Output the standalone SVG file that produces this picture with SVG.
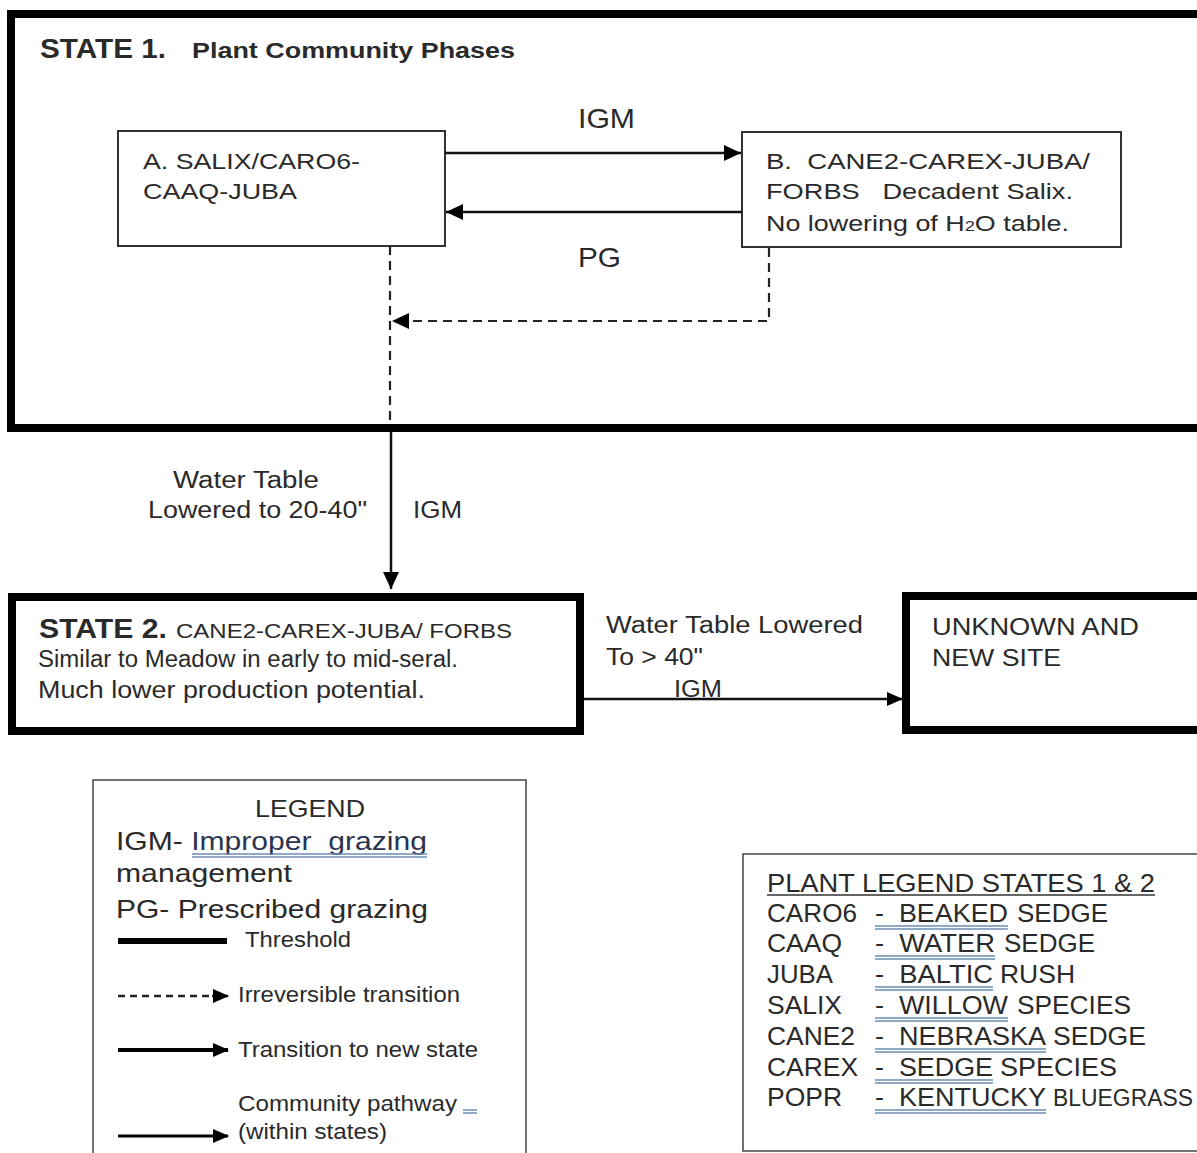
<svg xmlns="http://www.w3.org/2000/svg" width="1197" height="1153" viewBox="0 0 1197 1153">
<style>
text{font-family:"Liberation Sans",Arial,sans-serif;fill:#2a2a2a;white-space:pre}
.thick{fill:none;stroke:#000;stroke-width:8}
.thin{fill:#fff;stroke:#333;stroke-width:2}
.ln{fill:none;stroke:#111;stroke-width:2.5}
.dash{fill:none;stroke:#222;stroke-width:2.2;stroke-dasharray:9 6}
.t22{font-size:22px}
.t23{font-size:23px}
.ul{stroke:#6a8db5;stroke-width:1.5}
</style>
<defs>
<marker id="ah" markerWidth="16" markerHeight="14" refX="15" refY="7" orient="auto" markerUnits="userSpaceOnUse" viewBox="0 0 16 14">
<path d="M0,0 L16,7 L0,14 z" fill="#000"/>
</marker>
<marker id="ahs" markerWidth="17" markerHeight="16" refX="17" refY="8" orient="auto" markerUnits="userSpaceOnUse" viewBox="0 0 17 16">
<path d="M0,0 L17,8 L0,16 z" fill="#000"/>
</marker>
</defs>
<rect width="1197" height="1153" fill="#fff"/>

<g id="state1">
<rect class="thick" x="11" y="14" width="1200" height="414"/>
<text x="40" y="58" font-size="27" font-weight="bold" fill="#151515" textLength="126" lengthAdjust="spacingAndGlyphs">STATE 1.</text>
<text x="192" y="58" font-size="22" font-weight="bold" fill="#151515" textLength="323" lengthAdjust="spacingAndGlyphs">Plant Community Phases</text>
</g>

<g id="phaseA">
<rect class="thin" x="118" y="131" width="327" height="115"/>
<text class="t22" x="143" y="169" textLength="217" lengthAdjust="spacingAndGlyphs">A. SALIX/CARO6-</text>
<text class="t22" x="143" y="199" textLength="154" lengthAdjust="spacingAndGlyphs">CAAQ-JUBA</text>
</g>

<g id="phaseB">
<rect class="thin" x="742" y="132" width="379" height="115"/>
<text class="t22" x="766" y="169" textLength="324" lengthAdjust="spacingAndGlyphs">B.  CANE2-CAREX-JUBA/</text>
<text class="t22" x="766" y="199" textLength="307" lengthAdjust="spacingAndGlyphs">FORBS   Decadent Salix.</text>
<text class="t22" x="766" y="231" textLength="303" lengthAdjust="spacingAndGlyphs">No lowering of H<tspan font-size="15">2</tspan>O table.</text>
</g>

<g id="state2">
<rect class="thick" x="12" y="597" width="568" height="134" fill="#fff"/>
<text x="39" y="638" font-size="28" font-weight="bold" fill="#151515" textLength="128" lengthAdjust="spacingAndGlyphs">STATE 2.</text>
<text x="176" y="638" font-size="21" textLength="336" lengthAdjust="spacingAndGlyphs">CANE2-CAREX-JUBA/ FORBS</text>
<text class="t23" x="38" y="667" textLength="420" lengthAdjust="spacingAndGlyphs">Similar to Meadow in early to mid-seral.</text>
<text class="t23" x="38" y="698" textLength="387" lengthAdjust="spacingAndGlyphs">Much lower production potential.</text>
</g>

<g id="unknown">
<rect class="thick" x="906" y="596" width="300" height="134" fill="#fff"/>
<text class="t23" x="932" y="635" textLength="207" lengthAdjust="spacingAndGlyphs">UNKNOWN AND</text>
<text class="t23" x="932" y="666" textLength="129" lengthAdjust="spacingAndGlyphs">NEW SITE</text>
</g>

<g id="connectors">
<line class="ln" x1="445" y1="153" x2="741" y2="153" marker-end="url(#ahs)"/>
<line class="ln" x1="742" y1="212" x2="446" y2="212" marker-end="url(#ahs)"/>
<polyline class="dash" points="769,248 769,321 392,321" marker-end="url(#ahs)"/>
<line class="dash" x1="390" y1="246" x2="390" y2="424"/>
<line class="ln" x1="391" y1="432" x2="391" y2="589" marker-end="url(#ahs)"/>
<line class="ln" x1="584" y1="699" x2="902" y2="699" marker-end="url(#ah)"/>
</g>

<g id="labels">
<text x="578" y="128" font-size="28" textLength="57" lengthAdjust="spacingAndGlyphs">IGM</text>
<text x="578" y="267" font-size="28" textLength="43" lengthAdjust="spacingAndGlyphs">PG</text>
<text class="t23" x="173" y="488" textLength="146" lengthAdjust="spacingAndGlyphs">Water Table</text>
<text class="t23" x="148" y="518" textLength="219" lengthAdjust="spacingAndGlyphs">Lowered to 20-40"</text>
<text class="t23" x="413" y="518" textLength="49" lengthAdjust="spacingAndGlyphs">IGM</text>
<text class="t23" x="606" y="633" textLength="257" lengthAdjust="spacingAndGlyphs">Water Table Lowered</text>
<text class="t23" x="606" y="665" textLength="97" lengthAdjust="spacingAndGlyphs">To &gt; 40"</text>
<text class="t23" x="674" y="697" textLength="48" lengthAdjust="spacingAndGlyphs">IGM</text>
</g>

<g id="legend">
<rect x="93" y="780" width="433" height="390" fill="#fff" stroke="#444" stroke-width="1.5"/>
<text x="255" y="817" font-size="24" textLength="110" lengthAdjust="spacingAndGlyphs">LEGEND</text>
<text x="116" y="850" font-size="26" textLength="311" lengthAdjust="spacingAndGlyphs">IGM- <tspan fill="#2b3550">Improper  grazing</tspan></text>
<line class="ul" x1="192" y1="854" x2="427" y2="854"/>
<line class="ul" x1="192" y1="857" x2="427" y2="857"/>
<text x="116" y="882" font-size="26" textLength="176" lengthAdjust="spacingAndGlyphs">management</text>
<text x="116" y="918" font-size="26" textLength="312" lengthAdjust="spacingAndGlyphs">PG- Prescribed grazing</text>
<line x1="118" y1="941" x2="227" y2="941" stroke="#000" stroke-width="6"/>
<text x="245" y="947" font-size="22" textLength="106" lengthAdjust="spacingAndGlyphs">Threshold</text>
<line x1="118" y1="996" x2="214" y2="996" stroke="#222" stroke-width="2.5" stroke-dasharray="7 5"/>
<line x1="212" y1="996" x2="228" y2="996" stroke="#222" stroke-width="2.5" marker-end="url(#ah)"/>
<text x="238" y="1002" font-size="22" textLength="222" lengthAdjust="spacingAndGlyphs">Irreversible transition</text>
<line x1="118" y1="1050" x2="228" y2="1050" stroke="#000" stroke-width="4" marker-end="url(#ah)"/>
<text x="238" y="1057" font-size="22" textLength="240" lengthAdjust="spacingAndGlyphs">Transition to new state</text>
<text x="238" y="1111" font-size="22" textLength="219" lengthAdjust="spacingAndGlyphs">Community pathway</text>
<line class="ul" x1="463" y1="1110" x2="477" y2="1110"/>
<line class="ul" x1="463" y1="1113" x2="477" y2="1113"/>
<text x="238" y="1139" font-size="22" textLength="149" lengthAdjust="spacingAndGlyphs">(within states)</text>
<line x1="118" y1="1136" x2="228" y2="1136" stroke="#000" stroke-width="3" marker-end="url(#ah)"/>
</g>

<g id="plantLegend">
<rect x="743" y="854" width="470" height="297" fill="#fff" stroke="#444" stroke-width="1.5"/>
<text x="767" y="892" font-size="25" textLength="388" lengthAdjust="spacingAndGlyphs">PLANT LEGEND STATES 1 &amp; 2</text>
<line x1="767" y1="895" x2="1155" y2="895" stroke="#333" stroke-width="1.5"/>
<g font-size="25">
<text x="767" y="922" textLength="90" lengthAdjust="spacingAndGlyphs">CARO6</text><text x="875" y="922" textLength="133" lengthAdjust="spacingAndGlyphs">-  BEAKED</text><text x="1017" y="922" textLength="91" lengthAdjust="spacingAndGlyphs">SEDGE</text>
<text x="767" y="952" textLength="75" lengthAdjust="spacingAndGlyphs">CAAQ</text><text x="875" y="952" textLength="120" lengthAdjust="spacingAndGlyphs">-  WATER</text><text x="1004" y="952" textLength="91" lengthAdjust="spacingAndGlyphs">SEDGE</text>
<text x="767" y="983" textLength="66" lengthAdjust="spacingAndGlyphs">JUBA</text><text x="875" y="983" textLength="118" lengthAdjust="spacingAndGlyphs">-  BALTIC</text><text x="1000" y="983" textLength="75" lengthAdjust="spacingAndGlyphs">RUSH</text>
<text x="767" y="1014" textLength="75" lengthAdjust="spacingAndGlyphs">SALIX</text><text x="875" y="1014" textLength="133" lengthAdjust="spacingAndGlyphs">-  WILLOW</text><text x="1017" y="1014" textLength="114" lengthAdjust="spacingAndGlyphs">SPECIES</text>
<text x="767" y="1045" textLength="88" lengthAdjust="spacingAndGlyphs">CANE2</text><text x="875" y="1045" textLength="171" lengthAdjust="spacingAndGlyphs">-  NEBRASKA</text><text x="1053" y="1045" textLength="93" lengthAdjust="spacingAndGlyphs">SEDGE</text>
<text x="767" y="1076" textLength="91" lengthAdjust="spacingAndGlyphs">CAREX</text><text x="875" y="1076" textLength="118" lengthAdjust="spacingAndGlyphs">-  SEDGE</text><text x="1000" y="1076" textLength="117" lengthAdjust="spacingAndGlyphs">SPECIES</text>
<text x="767" y="1106" textLength="75" lengthAdjust="spacingAndGlyphs">POPR</text><text x="875" y="1106" textLength="171" lengthAdjust="spacingAndGlyphs">-  KENTUCKY</text><text x="1053" y="1106" font-size="23" textLength="140" lengthAdjust="spacingAndGlyphs">BLUEGRASS</text>
</g>
<g class="ul">
<line x1="875" y1="926" x2="1008" y2="926"/><line x1="875" y1="929" x2="1008" y2="929"/>
<line x1="875" y1="956" x2="995" y2="956"/><line x1="875" y1="959" x2="995" y2="959"/>
<line x1="875" y1="987" x2="993" y2="987"/><line x1="875" y1="990" x2="993" y2="990"/>
<line x1="875" y1="1018" x2="1008" y2="1018"/><line x1="875" y1="1021" x2="1008" y2="1021"/>
<line x1="875" y1="1049" x2="1046" y2="1049"/><line x1="875" y1="1052" x2="1046" y2="1052"/>
<line x1="875" y1="1080" x2="993" y2="1080"/><line x1="875" y1="1083" x2="993" y2="1083"/>
<line x1="875" y1="1110" x2="1046" y2="1110"/><line x1="875" y1="1113" x2="1046" y2="1113"/>
</g>
</g>
</svg>
